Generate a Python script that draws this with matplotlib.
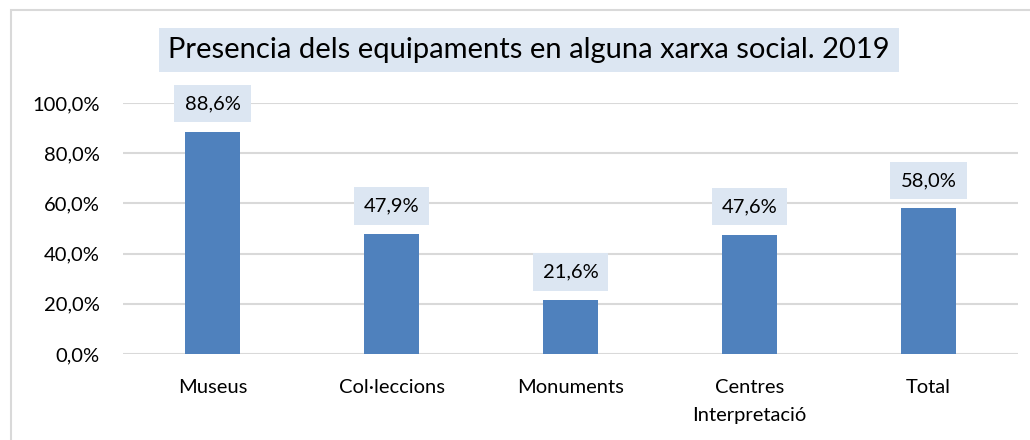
import matplotlib.pyplot as plt
from matplotlib.patches import Rectangle

plt.rcParams["font.family"] = ["Lato", "DejaVu Sans"]

categories = ["Museus", "Col·leccions", "Monuments", "Centres\nInterpretació", "Total"]
values = [88.6, 47.9, 21.6, 47.6, 58.0]
yticks = [0, 20, 40, 60, 80, 100]
title = "Presencia dels equipaments en alguna xarxa social. 2019"

bar_color = "#4F81BD"
box_color = "#DCE6F2"
grid_color = "#D9D9D9"

fig = plt.figure(figsize=(10.3, 4.4), dpi=100)

# outer chart frame (only top and left edges fall inside the picture)
fig.patches.append(Rectangle((11 / 1030, -0.1), 1.2, (430 / 440) + 0.1,
                             transform=fig.transFigure, fill=False,
                             edgecolor=grid_color, linewidth=1.5))

ax = fig.add_axes([123 / 1030, 86 / 440, 895 / 1030, 251 / 440])
x = range(len(categories))
ax.bar(x, values, width=0.31, color=bar_color, zorder=3)
ax.set_xlim(-0.5, len(categories) - 0.5)
ax.set_ylim(0, 100)
ax.set_yticks(yticks)
ax.set_yticklabels([f"{v:.1f}%".replace(".", ",") for v in yticks], fontsize=14.5)
ax.set_xticks(list(x))
ax.set_xticklabels(categories, fontsize=14.5, linespacing=1.75)
ax.tick_params(axis="y", length=0, pad=17)
ax.tick_params(axis="x", length=0, pad=18)
ax.grid(axis="y", color=grid_color, linewidth=1.5, zorder=0)
for s in ax.spines.values():
    s.set_visible(False)

for i, v in enumerate(values):
    ax.annotate(f"{v:.1f}%".replace(".", ","), (i, v), xytext=(0, 20),
                textcoords="offset points", ha="center", va="center", fontsize=14.5,
                bbox=dict(boxstyle="square,pad=0.5", facecolor=box_color, edgecolor="none"))

fig.text(529 / 1030, 1 - 50 / 440, title, ha="center", va="center", fontsize=21,
         bbox=dict(boxstyle="square,pad=0.3", facecolor=box_color, edgecolor="none"))

fig.savefig("out.png", dpi=100)
